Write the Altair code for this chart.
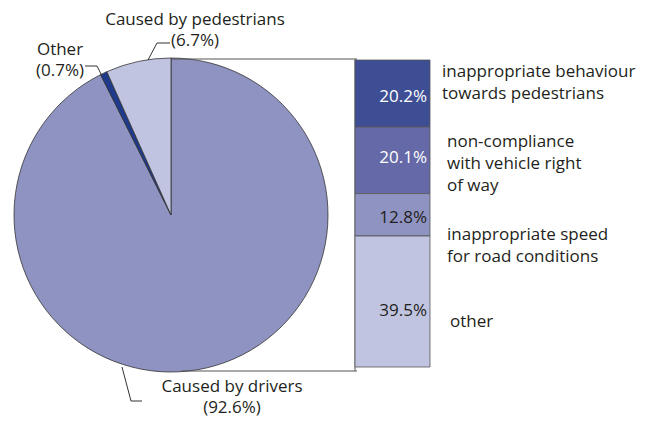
import altair as alt
import pandas as pd

# ---- data ----
pie_names = ["Caused by drivers", "Other", "Caused by pedestrians"]
pie_values = [92.6, 0.7, 6.7]
pie_colors = ["#8f93c1", "#1f3a8a", "#c1c4e0"]

bar_names = [
    "inappropriate behaviour\ntowards pedestrians",
    "non-compliance\nwith vehicle right\nof way",
    "inappropriate speed\nfor road conditions",
    "other",
]
bar_values = [20.2, 20.1, 12.8, 39.5]
bar_colors = ["#3e4e94", "#6669a8", "#8f93c1", "#c1c4e0"]
bar_text_colors = ["#ffffff", "#ffffff", "#231f20", "#231f20"]

# ---- layout (plot-area pixels) ----
FONT = "Open Sans"
FS = 17
TXT = "#231f20"
LINE = "#333333"
CX, CY, R = 163, 207, 157
BAR_X0, BAR_X1 = 347, 422
BAR_Y0, BAR_Y1 = 52, 359
BRACKET_TOP, BRACKET_BOT = 51, 363
pie_label_pos = [(224, 384), (52, 47), (187, 17)]
pie_label_lh = [21, 21, 21]
bar_pct_dy = [4, -2, 3, 9]
cat_label_pos = [(434, 69), (439, 139), (439, 232), (442, 319)]
leaders = [
    [(114, 359), (123, 393), (134, 393)],
    [(94, 68), (89, 58), (77, 58)],
    [(140, 52), (149, 35), (162, 35)],
]

# ---- tables ----
pie_df = pd.DataFrame({
    "name": pie_names,
    "value": pie_values,
    "order": list(range(len(pie_names))),
})
pie_df["label"] = [f"{n}\n({v}%)" for n, v in zip(pie_names, pie_values)]

total = sum(bar_values)
starts, s = [], 0.0
for v in bar_values:
    starts.append(s)
    s += v
bar_df = pd.DataFrame({
    "name": bar_names,
    "value": bar_values,
    "start": starts,
    "end": [a + b for a, b in zip(starts, bar_values)],
    "order": list(range(len(bar_names))),
})
bar_df["mid"] = (bar_df["start"] + bar_df["end"]) / 2
bar_df["pct"] = [f"{v}%" for v in bar_values]

yscale = alt.Scale(domain=[0, total], range=[BAR_Y0, BAR_Y1], nice=False, zero=False)

layers = []

# pie
pie = alt.Chart(pie_df).mark_arc(outerRadius=R, stroke=LINE, strokeWidth=0.8).encode(
    theta=alt.Theta("value:Q", stack=True),
    order=alt.Order("order:Q"),
    color=alt.Color("name:N", scale=alt.Scale(domain=pie_names, range=pie_colors), legend=None),
    x=alt.value(CX),
    y=alt.value(CY),
)
layers.append(pie)

# bracket lines
for (x0, x1, y0, y1) in [
    (CX, BAR_X0 + 2, BRACKET_TOP, BRACKET_TOP),
    (CX + 10, BAR_X0 + 2, BRACKET_BOT, BRACKET_BOT),
    (BAR_X0, BAR_X0, BRACKET_TOP, BRACKET_BOT),
]:
    layers.append(
        alt.Chart(pd.DataFrame({"a": [0]})).mark_rule(color="#555555", strokeWidth=1).encode(
            x=alt.value(x0), x2=alt.value(x1), y=alt.value(y0), y2=alt.value(y1)
        )
    )

# stacked bar
bar = alt.Chart(bar_df).mark_bar(stroke="#555555", strokeWidth=0.8).encode(
    x=alt.value(BAR_X0),
    x2=alt.value(BAR_X1),
    y=alt.Y("start:Q", scale=yscale, axis=None),
    y2="end:Q",
    color=alt.Color("name:N", scale=alt.Scale(domain=bar_names, range=bar_colors), legend=None),
)
layers.append(bar)

# bar percentage labels
for i, name in enumerate(bar_names):
    layers.append(
        alt.Chart(bar_df).transform_filter(alt.datum.order == i).mark_text(
            align="right", baseline="middle", font=FONT, fontSize=FS,
            color=bar_text_colors[i], dy=bar_pct_dy[i],
        ).encode(
            x=alt.value(BAR_X1 - 3),
            y=alt.Y("mid:Q", scale=yscale, axis=None),
            text="pct:N",
        )
    )

# category labels
for i, name in enumerate(bar_names):
    layers.append(
        alt.Chart(bar_df).transform_filter(alt.datum.order == i).mark_text(
            align="left", baseline="alphabetic", font=FONT, fontSize=FS,
            color=TXT, lineBreak="\n", lineHeight=22,
        ).encode(
            x=alt.value(cat_label_pos[i][0]),
            y=alt.value(cat_label_pos[i][1]),
            text="name:N",
        )
    )

# pie labels
for i, name in enumerate(pie_names):
    layers.append(
        alt.Chart(pie_df).transform_filter(alt.datum.order == i).mark_text(
            align="center", baseline="alphabetic", font=FONT, fontSize=FS,
            color=TXT, lineBreak="\n", lineHeight=pie_label_lh[i],
        ).encode(
            x=alt.value(pie_label_pos[i][0]),
            y=alt.value(pie_label_pos[i][1]),
            text="label:N",
        )
    )

# leader lines
for pts in leaders:
    for (a, b) in zip(pts[:-1], pts[1:]):
        layers.append(
            alt.Chart(pd.DataFrame({"a": [0]})).mark_rule(color=LINE, strokeWidth=1).encode(
                x=alt.value(a[0]), y=alt.value(a[1]), x2=alt.value(b[0]), y2=alt.value(b[1])
            )
        )

chart = alt.layer(*layers).resolve_scale(color="independent").properties(
    width=646, height=412, padding=0, autosize=alt.AutoSizeParams(type="none")
).configure_view(stroke=None)

chart.save("out.html", embed_options={"renderer": "svg", "actions": False})
